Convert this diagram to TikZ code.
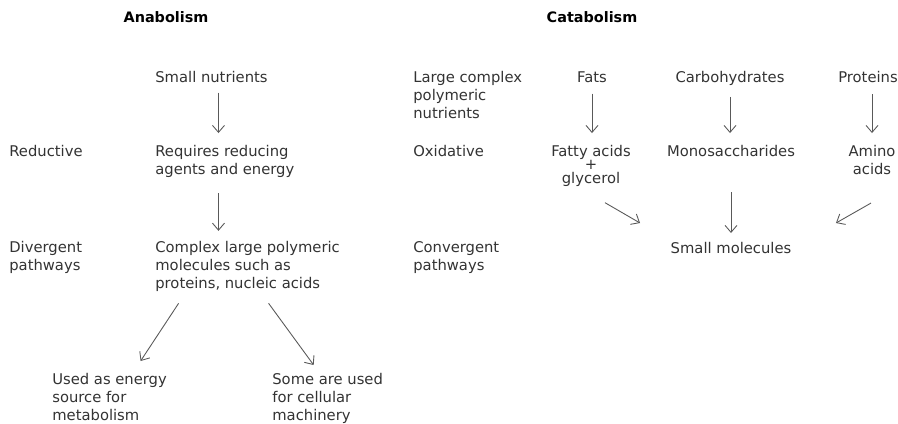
\documentclass[tikz,border=0pt]{standalone}
\usepackage{fontspec}
\setmainfont{DejaVu Sans}
\usetikzlibrary{arrows.meta}

\begin{document}
\begin{tikzpicture}[x=0.02cm, y=-0.02cm,
  txt/.style={inner sep=0pt, align=left, anchor=north west, text=black!80, font=\fontsize{8.4}{10.2}\selectfont},
  ctr/.style={txt, align=center, anchor=north},
  ttl/.style={inner sep=0pt, font=\fontsize{8.2}{10}\selectfont\bfseries},
  arr/.style={-{Straight Barb[length=1.4mm, width=2.4mm]}, draw=black!65, line width=0.5pt}]
  % coordinates in pixels of the 898 x 423 frame, y running down
  \fill[white] (0,0) rectangle (898,423);
  \useasboundingbox (0,0) rectangle (898,423);
  \clip (0,0) rectangle (898,423);
  \node[ttl] (ana)  at (166,17) {Anabolism};
  \node[ttl] (cata) at (592,17) {Catabolism};
  % anabolism
  \node[txt] (small)   at (155,71)  {Small nutrients};
  \node[txt] (redu)    at (9,145)   {Reductive};
  \node[txt] (req)     at (155,145) {Requires reducing\\agents and energy};
  \node[txt] (diverg)  at (9,241)   {Divergent\\pathways};
  \node[txt] (cplx)    at (155,241) {Complex large polymeric\\molecules such as\\proteins, nucleic acids};
  \node[txt] (used)    at (52,373)  {Used as energy\\source for\\metabolism};
  \node[txt] (some)    at (272,373) {Some are used\\for cellular\\machinery};
  % catabolism
  \node[txt] (large)   at (413,71)  {Large complex\\polymeric\\nutrients};
  \node[txt] (oxid)    at (413,145) {Oxidative};
  \node[txt] (converg) at (413,241) {Convergent\\pathways};
  \node[ctr] (fats)    at (592,71)  {Fats};
  \node[ctr] (carb)    at (730,71)  {Carbohydrates};
  \node[ctr] (prot)    at (868,71)  {Proteins};
  \node[ctr] (fatty)   at (591,145) {Fatty acids\\[-2.6pt]+\\[-2.6pt]glycerol};
  \node[ctr] (mono)    at (731,145) {Monosaccharides};
  \node[ctr] (amino)   at (872,145) {Amino\\acids};
  \node[ctr] (smallmol) at (731,242) {Small molecules};
  \draw[arr, shorten <=5.4pt, shorten >=6.8pt] ([xshift=0.14cm]small.south) -- ([xshift=0.14cm]small.south |- req.north);
  \draw[arr, shorten <=8.6pt, shorten >=5.8pt] ([xshift=0.14cm]small.south |- req.south) -- ([xshift=0.14cm]small.south |- cplx.north);
  \draw[arr] ([xshift=-1.38cm,yshift=-0.23cm]cplx.south) -- ([xshift=0.62cm,yshift=0.24cm]used.north);
  \draw[arr] ([xshift=0.42cm,yshift=-0.23cm]cplx.south) -- ([xshift=-0.28cm,yshift=0.16cm]some.north);
  \draw[arr, shorten <=6.2pt, shorten >=6.8pt] (fats.south) -- (fats.south |- fatty.north);
  \draw[arr, shorten <=6.2pt, shorten >=6.8pt] (carb.south) -- (carb.south |- mono.north);
  \draw[arr, shorten <=6.2pt, shorten >=6.8pt] (prot.south -| amino.north) -- (amino.north);
  \draw[arr] ([xshift=0.28cm,yshift=-0.32cm]fatty.south) -- ([xshift=-1.82cm,yshift=0.38cm]smallmol.north);
  \draw[arr] ([yshift=-0.7cm]mono.south) -- ([yshift=0.18cm]smallmol.north);
  \draw[arr] ([xshift=-0.02cm,yshift=-0.56cm]amino.south) -- ([xshift=2.1cm,yshift=0.38cm]smallmol.north);
\end{tikzpicture}
\end{document}
